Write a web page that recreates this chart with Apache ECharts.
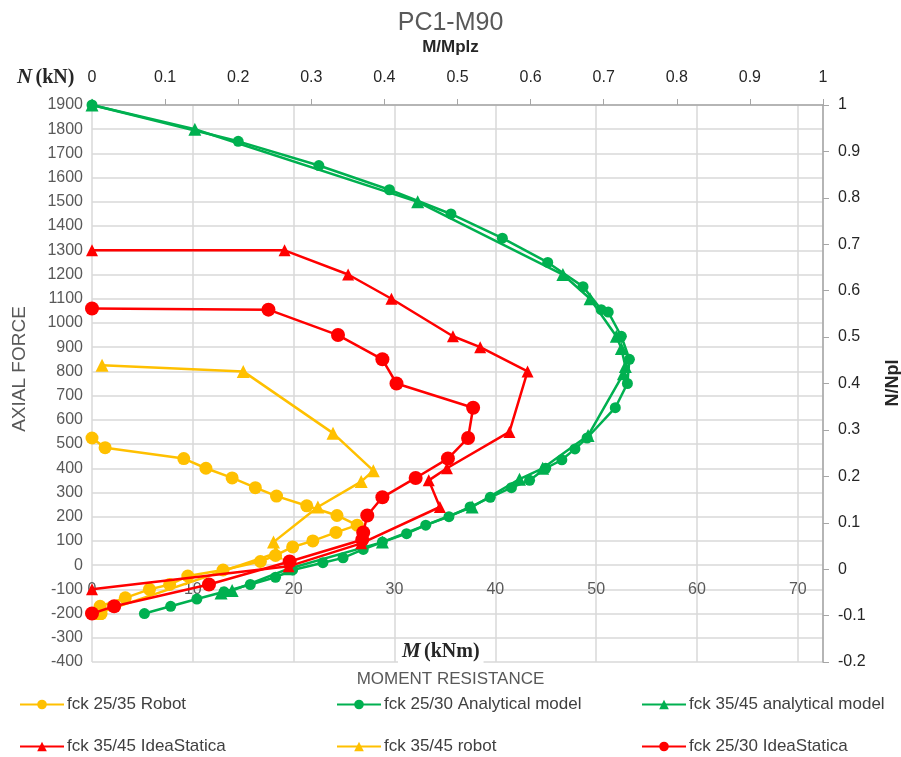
<!DOCTYPE html>
<html>
<head>
<meta charset="utf-8">
<script src="https://cdn.jsdelivr.net/npm/echarts@6/dist/echarts.min.js"></script>
<style>html,body{margin:0;padding:0;background:#fff}#c{width:901px;height:757px}</style>
</head>
<body>
<div id="c"></div>
<script>
// M (kNm) and N (kN)
const robot2535_M = [0, 1.3, 9.1, 11.3, 13.9, 16.2, 18.3, 21.3, 24.3, 26.3, 24.2, 21.9, 19.9, 18.2, 16.7, 13, 9.5, 7.7, 5.7, 3.3, 0.8, 0.9];
const robot2535_N = [525, 485, 440, 400, 360, 320, 285, 245, 205, 165, 135, 100, 75, 40, 15, -20, -45, -80, -100, -135, -170, -200];

const anal2530_M = [0, 14.5, 22.5, 29.5, 35.6, 40.7, 45.2, 48.7, 50.5, 51.2, 52.5, 53.3, 53.1, 51.9, 49.1, 47.9, 46.6, 45, 43.4, 41.6, 39.5, 37.5, 35.4, 33.1, 31.2, 28.8, 26.9, 24.9, 22.9, 19.9, 18.2, 15.7, 13.1, 10.4, 7.8, 5.2];
const anal2530_N = [1900, 1750, 1650, 1550, 1450, 1350, 1250, 1150, 1055, 1045, 945, 850, 750, 650, 525, 480, 435, 400, 350, 320, 280, 240, 200, 165, 130, 95, 65, 30, 10, -20, -50, -80, -110, -140, -170, -200];

const anal3545_M = [0, 10.2, 32.3, 46.7, 49.4, 52.0, 52.5, 52.9, 52.7, 49.2, 44.7, 42.4, 37.7, 28.8, 19.5, 13.9, 12.8];
const anal3545_N = [1900, 1800, 1500, 1200, 1100, 945, 895, 820, 790, 535, 400, 355, 240, 95, -15, -105, -115];

const idea3545_M = [0, 19.1, 25.4, 29.7, 35.8, 38.5, 43.2, 41.4, 35.2, 33.4, 34.5, 26.7, 19.5, 0];
const idea3545_N = [1300, 1300, 1200, 1100, 945, 900, 800, 550, 400, 350, 240, 90, -5, -100];

const robot3545_M = [1.0, 15.0, 23.9, 27.9, 26.7, 22.4, 18.0, 18.3, 0.5];
const robot3545_N = [825, 800, 545, 390, 345, 240, 95, 50, -200];

const idea2530_M = [0, 17.5, 24.4, 28.8, 30.2, 37.8, 37.3, 35.3, 32.1, 28.8, 27.3, 26.9, 26.8, 19.6, 11.6, 2.2, 0];
const idea2530_N = [1060, 1055, 950, 850, 750, 650, 525, 440, 360, 280, 205, 135, 105, 15, -80, -170, -200];

const xTicksBottom = [0, 72.5, 10];     // min, max, interval (kNm)
const xTicksTop = [0, 1, 0.1];          // M/Mplz
const yTicksLeft = [-400, 1900, 100];   // kN
const yTicksRight = [-0.2, 1, 0.1];     // N/Npl

const names = ['fck 25/35 Robot', 'fck 25/30 Analytical model', 'fck 35/45 analytical model',
               'fck 35/45 IdeaStatica', 'fck 35/45 robot', 'fck 25/30 IdeaStatica'];

const GREEN = '#00B050', RED = '#FF0000', YEL = '#FFC000';
const FONT = 'Liberation Sans Narrow, Liberation Sans, sans-serif';
const zip = (a, b) => a.map((v, i) => [v, b[i]]);

function ser(name, M, N, color, symbol, size, z) {
  return {
    name, type: 'line', data: zip(M, N), xAxisIndex: 0, yAxisIndex: 0,
    symbol, symbolSize: size, showSymbol: true, z,
    lineStyle: { color, width: 2.5 }, itemStyle: { color, borderWidth: 0 },
    emphasis: { disabled: true }, animation: false
  };
}

const chart = echarts.init(document.getElementById('c'), null, { renderer: 'canvas' });
const legendPos = [[14, 691], [331, 691], [636, 691], [14, 733], [331, 733], [636, 733]];
const legends = names.map((n, i) => ({
  data: [n], left: legendPos[i][0], top: legendPos[i][1], itemWidth: 44, itemHeight: 12, itemGap: 4,
  textStyle: { fontFamily: FONT, fontSize: 17, color: '#404040', padding: [0, 0, 0, -2] }, selectedMode: false
}));

const fmt = v => String(+(+v).toFixed(2));
const noLine = { show: false, onZero: false };

chart.setOption({
  animation: false,
  backgroundColor: '#fff',
  grid: { left: 92, right: 78, top: 105, bottom: 95, containLabel: false },
  legend: legends,
  xAxis: [
    { type: 'value', position: 'bottom', min: xTicksBottom[0], max: xTicksBottom[1], interval: xTicksBottom[2],
      offset: -88, axisLine: noLine, axisTick: { show: false },
      axisLabel: { fontFamily: FONT, fontSize: 16, color: '#595959', margin: 8, formatter: fmt, showMaxLabel: false },
      splitLine: { show: true, lineStyle: { color: '#d9d9d9', width: 1.5 } } },
    { type: 'value', position: 'top', min: xTicksTop[0], max: xTicksTop[1], interval: xTicksTop[2],
      axisLine: { show: true, onZero: false, lineStyle: { color: '#a6a6a6', width: 1.5 } },
      axisTick: { show: true, length: 6, lineStyle: { color: '#a6a6a6' } },
      axisLabel: { fontFamily: FONT, fontSize: 16, color: '#262626', margin: 19, formatter: fmt },
      splitLine: { show: false } }
  ],
  yAxis: [
    { type: 'value', position: 'left', min: yTicksLeft[0], max: yTicksLeft[1], interval: yTicksLeft[2],
      axisLine: noLine, axisTick: { show: false },
      axisLabel: { fontFamily: FONT, fontSize: 16, color: '#595959', margin: 9, formatter: v => String(v) },
      splitLine: { show: true, lineStyle: { color: '#d9d9d9', width: 1.5 } } },
    { type: 'value', position: 'right', min: yTicksRight[0], max: yTicksRight[1], interval: yTicksRight[2],
      axisLine: { show: true, onZero: false, lineStyle: { color: '#a6a6a6', width: 1.5 } },
      axisTick: { show: true, length: 6, lineStyle: { color: '#a6a6a6' } },
      axisLabel: { fontFamily: FONT, fontSize: 16, color: '#262626', margin: 15, formatter: fmt },
      splitLine: { show: false } }
  ],
  graphic: [
    { type: 'text', left: 'center', top: 11, style: { text: 'PC1-M90', fontFamily: FONT, fontSize: 25, fill: '#595959' } },
    { type: 'text', left: 'center', top: 39, style: { text: 'M/Mplz', fontFamily: FONT, fontSize: 17, fontWeight: 'bold', fill: '#262626' } },
    { type: 'text', left: 'center', top: 671, style: { text: 'MOMENT RESISTANCE', fontFamily: FONT, fontSize: 17, fill: '#595959' } },
    { type: 'text', x: 10, y: 369, rotation: Math.PI / 2, style: {
        text: 'AXIAL FORCE', fontFamily: FONT, fontSize: 19, fill: '#595959', align: 'center', verticalAlign: 'top' } },
    { type: 'text', left: 17, top: 67, style: {
        text: '{i|N} {b|(kN)}',
        rich: { i: { fontFamily: 'Liberation Serif, serif', fontStyle: 'italic', fontWeight: 'bold', fontSize: 21, fill: '#262626' },
                b: { fontFamily: 'Liberation Serif, serif', fontWeight: 'bold', fontSize: 20, fill: '#262626' } } } },
    { type: 'text', left: 398, top: 640, z: 10, style: {
        text: '{i|M} {b|(kNm)}', backgroundColor: '#fff', padding: [1, 4, 1, 4],
        rich: { i: { fontFamily: 'Liberation Serif, serif', fontStyle: 'italic', fontWeight: 'bold', fontSize: 21, fill: '#262626' },
                b: { fontFamily: 'Liberation Serif, serif', fontWeight: 'bold', fontSize: 20, fill: '#262626' } } } },
    { type: 'text', x: 884, y: 383, rotation: Math.PI / 2, style: {
        text: 'N/Npl', fontFamily: FONT, fontSize: 18, fontWeight: 'bold', fill: '#262626', align: 'center', verticalAlign: 'top' } }
  ],
  series: [
    ser(names[1], anal2530_M, anal2530_N, GREEN, 'circle', 11, 2),
    ser(names[2], anal3545_M, anal3545_N, GREEN, 'triangle', 13, 3),
    ser(names[0], robot2535_M, robot2535_N, YEL, 'circle', 13, 4),
    ser(names[4], robot3545_M, robot3545_N, YEL, 'triangle', 13, 5),
    ser(names[3], idea3545_M, idea3545_N, RED, 'triangle', 12, 6),
    ser(names[5], idea2530_M, idea2530_N, RED, 'circle', 14, 7)
  ]
});
</script>
</body>
</html>
